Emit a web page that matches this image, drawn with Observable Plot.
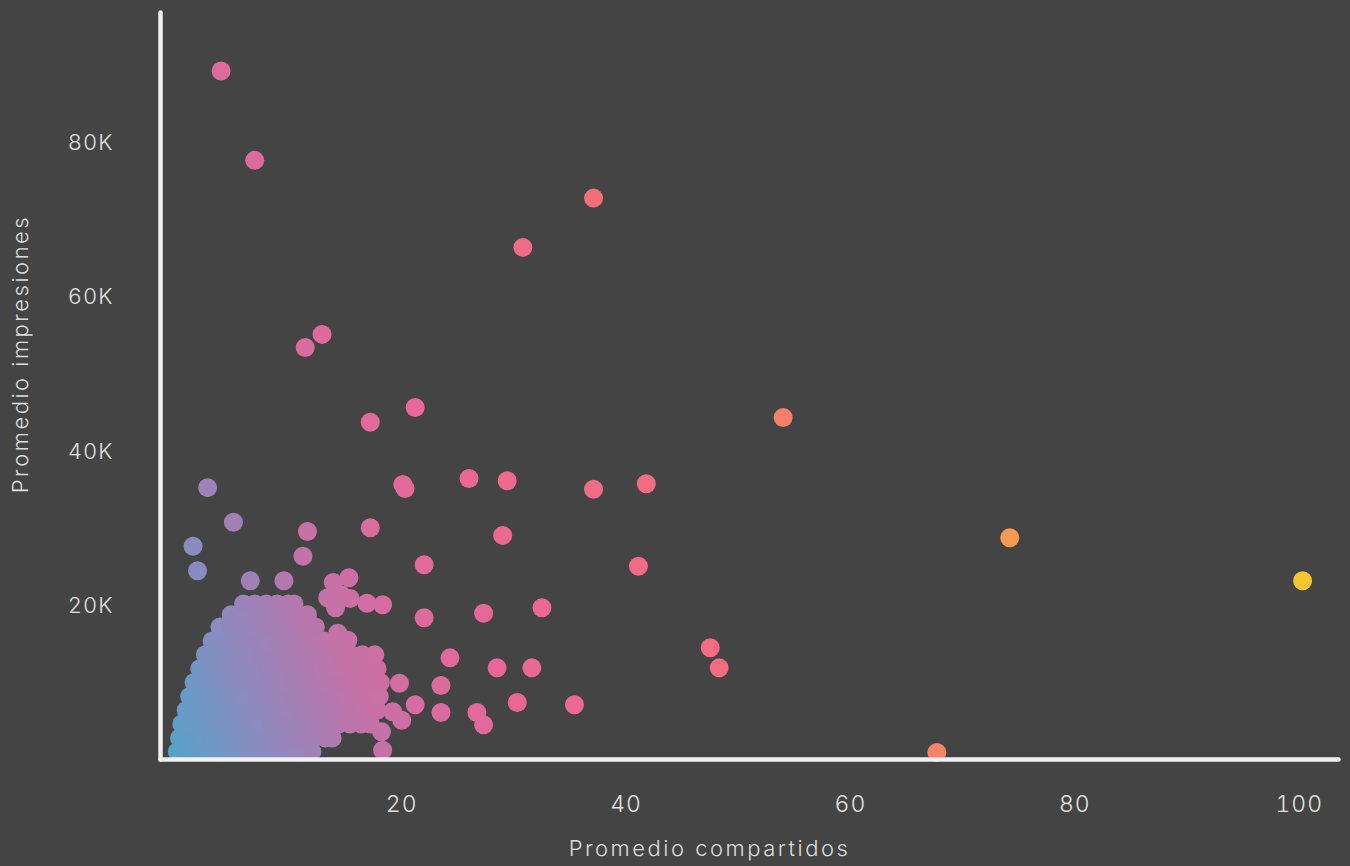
<!DOCTYPE html>
<html><head><meta charset="utf-8">
<script src="https://cdn.jsdelivr.net/npm/d3@7"></script>
<script src="https://cdn.jsdelivr.net/npm/@observablehq/plot@0.6"></script>
<style>
html,body{margin:0;padding:0;background:#444444;}
#chart{width:1350px;height:866px;overflow:hidden;}
</style></head>
<body><div id="chart"></div>
<script>
// Dense cluster: impression levels and the shares values read along each level
const clusterLevels = [1000, 2800, 4600, 6400, 8200, 10000, 11800, 13600, 15400, 17200, 18800, 20200];
const clusterShares = [
  [0, 1, 2, 3, 4, 5, 6, 7, 8, 9, 10, 11, 12],
  [0.2, 1.2, 2.2, 3.2, 4.2, 5.2, 6.2, 7.2, 8.2, 9.2, 10.2, 11.2, 12.2, 13.2, 13.8],
  [0.4, 1.4, 2.4, 3.4, 4.4, 5.4, 6.4, 7.4, 8.4, 9.4, 10.4, 11.4, 12.4, 13.4, 14.4, 15.4, 16.4, 17.2],
  [0.8, 1.8, 2.8, 3.8, 4.8, 5.8, 6.8, 7.8, 8.8, 9.8, 10.8, 11.8, 12.8, 13.8, 14.8, 15.8, 16.8, 17.8],
  [1.1, 2.1, 3.1, 4.1, 5.1, 6.1, 7.1, 8.1, 9.1, 10.1, 11.1, 12.1, 13.1, 14.1, 15.1, 16.1, 17.1, 18.0],
  [1.5, 2.5, 3.5, 4.5, 5.5, 6.5, 7.5, 8.5, 9.5, 10.5, 11.5, 12.5, 13.5, 14.5, 15.5, 16.5, 17.5, 18.1],
  [2.0, 3.0, 4.0, 5.0, 6.0, 7.0, 8.0, 9.0, 10.0, 11.0, 12.0, 13.0, 14.0, 15.0, 16.0, 17.0, 17.8],
  [2.5, 3.5, 4.5, 5.5, 6.5, 7.5, 8.5, 9.5, 10.5, 11.5, 12.5, 13.5, 14.5, 15.5, 16.5, 17.6],
  [3.1, 4.1, 5.1, 6.1, 7.1, 8.1, 9.1, 10.1, 11.1, 12.1, 13.1, 14.1, 14.6],
  [3.8, 4.8, 5.8, 6.8, 7.8, 8.8, 9.8, 10.8, 11.8, 12.3],
  [4.8, 5.8, 6.8, 7.8, 8.8, 9.8, 10.8, 11.6],
  [5.9, 6.9, 7.9, 8.9, 9.9, 10.4]
];

// Individual points (promedio compartidos, promedio impresiones)
const pointShares = [
  3.9, 6.9, 37.1, 30.8, 11.4, 12.9, 21.2, 17.2, 54.0, 2.7,
  20.1, 20.3, 26.0, 29.4, 37.1, 41.8, 5.0, 11.6, 17.2, 29.0,
  74.2, 1.4, 1.8, 11.2, 22.0, 41.1, 100.3, 6.5, 9.5, 32.5,
  27.3, 22.0, 16.9, 18.3, 24.3, 28.5, 31.6, 47.5, 48.3, 19.8,
  23.5, 21.2, 30.3, 35.4, 23.5, 26.7, 27.3, 20.0, 67.7, 18.3,
  18.2, 13.9, 15.3, 14.6, 14.1, 15.4, 13.4, 15.2, 14.3, 19.2
];
const pointImpressions = [
  89400, 77800, 72900, 66500, 53500, 55200, 45700, 43800, 44400, 35300,
  35700, 35200, 36500, 36200, 35100, 35800, 30800, 29600, 30100, 29100,
  28800, 27700, 24500, 26400, 25300, 25100, 23200, 23200, 23200, 19700,
  19000, 18400, 20300, 20100, 13200, 11900, 11900, 14500, 11900, 9900,
  9600, 7100, 7400, 7100, 6100, 6100, 4500, 5100, 900, 1200,
  3600, 23000, 23600, 21400, 19700, 20900, 21000, 15500, 16400, 6200
];

const xTicks = [20, 40, 60, 80, 100];
const yTicks = [20000, 40000, 60000, 80000];
const xTitle = "Promedio compartidos";
const yTitle = "Promedio impresiones";

// colour ramp
const colorDomain = [0, 4, 8, 13, 18, 24, 30, 42, 56, 67, 82, 104];
const colorRange = ["#58a2c8", "#6f98c5", "#8a8cc0", "#a47fb4", "#c273a8", "#d86c9f", "#e6689a", "#ee6a8c", "#f26f78", "#f5836a", "#f59b52", "#f6c62f"];

const data = [];
clusterLevels.forEach((lvl, i) => clusterShares[i].forEach(s => data.push({x: s, y: lvl})));
pointShares.forEach((s, i) => data.push({x: s, y: pointImpressions[i]}));

const font = "Inter, 'Open Sans', 'DejaVu Sans', sans-serif";
const chart = Plot.plot({
  width: 1350, height: 866,
  marginLeft: 160, marginRight: 12, marginTop: 12, marginBottom: 107,
  style: {background: "#444444", color: "#e0e0e0", fontFamily: font, fontSize: "22px", fontWeight: 300},
  x: {domain: [-1.5, 103.5], label: null},
  y: {domain: [0, 97000], label: null},
  color: {type: "linear", domain: colorDomain, range: colorRange, clamp: true},
  marks: [
    Plot.dot(data, {x: "x", y: "y", r: 9.5, fill: d => d.x + d.y / 4000}),
    Plot.axisX({ticks: xTicks, tickSize: 0, tickPadding: 36, tickFormat: d => String(d), label: null, fill: "#e0e0e0", fontSize: 23}),
    Plot.axisY({ticks: yTicks, tickSize: 0, tickPadding: 47, tickFormat: d => d / 1000 + "K", label: null, fill: "#e0e0e0", fontSize: 22}),
    Plot.frame({anchor: "left", stroke: "#f0f0f0", strokeWidth: 4.5, strokeLinecap: "round"}),
    Plot.frame({anchor: "bottom", stroke: "#f0f0f0", strokeWidth: 4.5, strokeLinecap: "round"}),
    Plot.text([yTitle], {text: d => d, frameAnchor: "left", textAnchor: "middle", rotate: -90, dx: -140, dy: -32, fontSize: 22, fill: "#dcdcdc", fontWeight: 300}),
    Plot.text([xTitle], {text: d => d, frameAnchor: "bottom", textAnchor: "middle", dx: -40, dy: 96, fontSize: 22, fill: "#dcdcdc", fontWeight: 300})
  ]
});
chart.querySelectorAll("text").forEach(t => {
  if (t.textContent === xTitle || t.textContent === yTitle) t.style.letterSpacing = "2.5px";
});
chart.querySelectorAll("[aria-label^='x-axis tick label'] text, [aria-label^='y-axis tick label'] text").forEach(t => t.style.letterSpacing = "1px");
document.getElementById("chart").appendChild(chart);
</script>
</body></html>
